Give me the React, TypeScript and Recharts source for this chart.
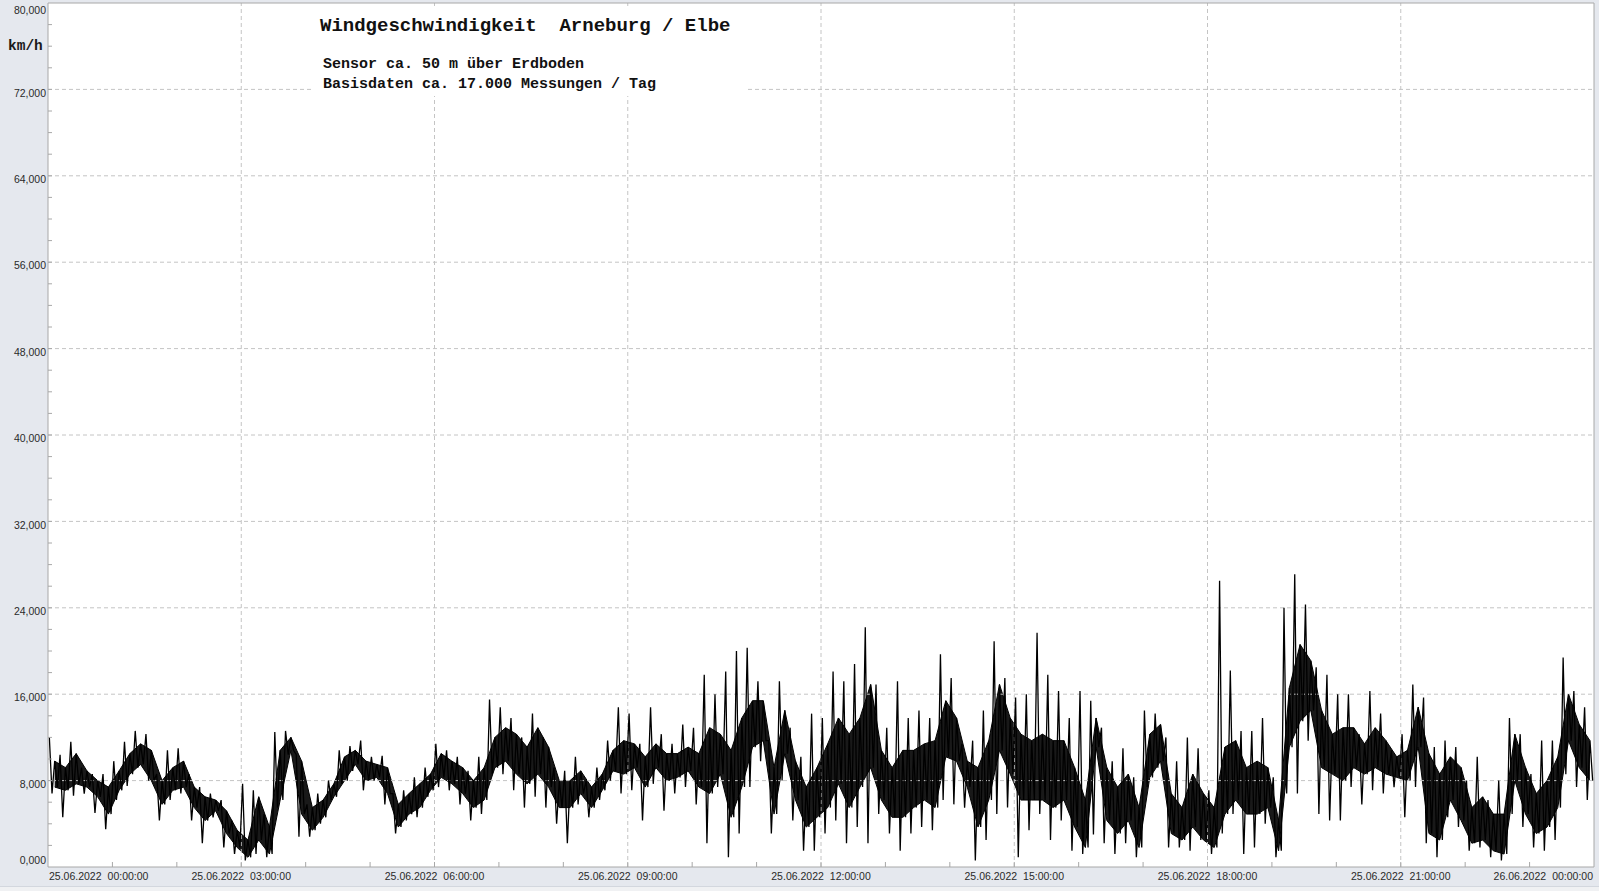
import React from 'react';
import { ComposedChart, Line, Area, XAxis, YAxis, CartesianGrid, ReferenceLine } from 'recharts';

// 10-minute bins over 25.06.2022, wind speed in km/h
// extremes of each bin (spikes)
const binHigh = [
  12, 10.4, 11.6, 9.2, 8.6, 8.6, 9.8, 11.6, 12.6, 12.3, 8.6, 10.8, 11, 8.6, 7.4, 6.8, 6.2, 4.3, 7.7, 7.1, 4.9, 12.5, 12.6, 10.4,
  5.8, 6.8, 8.0, 10.8, 11.2, 11.7, 10.2, 10.3, 6.8, 7.1, 8.3, 9.2, 11.4, 10.8, 10.2, 8.9, 10.2, 15.5, 14.8, 13.8, 12, 14.2, 12, 9.2,
  8.9, 10.2, 8.0, 9.2, 11.7, 14.8, 14.2, 11.4, 14.8, 12.3, 11.4, 13.2, 12.9, 17.8, 16, 18.1, 20, 20.3, 17.2, 11.7, 17.2, 12.9, 10.2, 14.2,
  13.8, 18.1, 17.2, 18.8, 22.2, 16.9, 12.9, 17.2, 13.8, 14.5, 13.8, 19.7, 17.5, 11.4, 11.7, 14.5, 20.9, 17.5, 15.7, 16, 21.7, 17.8, 16.3, 13.8,
  16.3, 15.4, 12.9, 9.8, 11, 8.3, 14.5, 14.2, 12, 9.8, 12, 11, 7.1, 26.5, 18.2, 12.6, 12.6, 13.8, 8.3, 24, 27.1, 24.3, 18.5, 17.8,
  16, 16, 12.3, 16.3, 14.2, 10.8, 12.3, 16.9, 15.7, 11.1, 11.7, 11.1, 8.0, 10.2, 6.2, 8.0, 13.8, 12.3, 8.6, 11.7, 11.7, 19.4, 16.3, 14.8,
];
const binLow = [
  6.8, 4.6, 6.6, 6.8, 5, 3.5, 6.2, 7.5, 9.2, 8.0, 4.3, 6.2, 6.8, 4.3, 2.2, 4.6, 1.8, 1.2, 0.6, 1.2, 0.9, 5.5, 10.4, 2.8,
  2.8, 4.0, 6.2, 7.7, 8.9, 7.1, 8.0, 5.8, 3.1, 4.3, 4.6, 6.5, 7.4, 7.1, 5.8, 4.3, 4.9, 8.6, 8.6, 7.1, 5.5, 6.5, 5.5, 4.0,
  2.2, 5.8, 4.6, 6.2, 8.0, 6.8, 7.1, 4.3, 7.7, 5.2, 6.8, 7.4, 5.8, 2.2, 7.4, 0.9, 3.1, 7.4, 9.8, 3.1, 8.0, 4.3, 1.5, 1.5,
  3.1, 4.3, 2.2, 3.7, 2.2, 4.9, 3.1, 1.5, 3.1, 3.7, 3.4, 6.2, 5.8, 5.5, 0.6, 2.5, 4.9, 5.5, 0.9, 3.4, 4.9, 2.5, 4.3, 1.5,
  1.2, 3.0, 2.2, 1.2, 2.2, 0.9, 7.4, 9.2, 1.8, 1.8, 1.5, 2.5, 1.2, 3.1, 4.9, 1.2, 1.8, 4.0, 0.9, 6.8, 6.8, 11.7, 4.9, 4.3,
  4.3, 7.4, 5.8, 7.1, 6.8, 7.4, 4.6, 7.4, 2.2, 0.9, 4.6, 3.7, 1.5, 1.8, 0.9, 0.6, 4.9, 3.7, 1.8, 1.5, 2.5, 8.6, 7.4, 6.2,
];
// dense part of the trace in each bin
const coreHigh = [
  9.8, 9.2, 10.5, 8.9, 8.0, 7.4, 8.9, 10.5, 11.4, 10.8, 8.0, 9.2, 9.8, 7.4, 6.5, 6.2, 5.2, 3.4, 2.5, 6.5, 3.7, 10.8, 12, 9.8,
  5.5, 6.2, 7.7, 10.2, 10.8, 9.8, 9.5, 9.2, 5.8, 6.8, 7.7, 8.6, 10.5, 9.8, 9.2, 8.0, 9.2, 12, 12.9, 12.3, 11.1, 12.9, 11.1, 8.0,
  8.0, 8.9, 7.4, 8.6, 10.8, 11.7, 11.4, 10.2, 11.4, 10.5, 10.5, 11.1, 10.5, 12.9, 12.3, 10.8, 13.8, 15.4, 15.4, 9.2, 14.5, 9.8, 7.4, 9.2,
  11.4, 13.8, 12.3, 13.8, 16.9, 10.8, 9.2, 10.8, 10.8, 11.4, 11.7, 15.4, 13.8, 9.8, 9.2, 11.7, 16.9, 13.8, 12.3, 11.7, 12.3, 11.7, 11.7, 9.2,
  6.2, 13.8, 9.2, 7.4, 8.6, 5.5, 12.3, 13.2, 6.8, 5.5, 8.6, 6.8, 5.5, 11.1, 11.7, 9.2, 9.8, 9.2, 4.3, 16.6, 20.6, 19.1, 14.5, 12.3,
  12.9, 12.9, 11.4, 12.9, 11.7, 10.2, 10.8, 14.8, 10.5, 8.6, 10.2, 9.2, 5.5, 6.5, 4.9, 4.9, 12.3, 9.2, 6.8, 8.0, 10.2, 16, 13.2, 11.7,
];
const coreLow = [
  7.4, 7.1, 7.7, 7.4, 6.5, 4.9, 7.1, 8.6, 9.5, 8.0, 5.8, 7.1, 7.4, 5.5, 4.3, 5.2, 3.1, 1.8, 0.9, 2.5, 1.2, 6.2, 10.8, 4.9,
  3.4, 4.6, 6.5, 8.0, 9.5, 8.0, 8.3, 6.8, 3.7, 4.9, 5.5, 7.1, 8.3, 7.7, 6.8, 5.5, 6.2, 9.2, 9.8, 8.6, 7.7, 8.6, 7.4, 5.5,
  5.5, 6.8, 5.5, 7.1, 8.9, 8.6, 9.2, 7.4, 9.2, 8.0, 8.3, 8.9, 7.4, 6.8, 8.6, 4.6, 7.4, 11.1, 11.7, 4.9, 10.5, 6.2, 3.7, 4.6,
  5.5, 7.7, 5.5, 7.4, 9.2, 6.2, 4.6, 4.6, 5.5, 6.2, 5.5, 10.2, 9.8, 7.4, 3.7, 6.2, 10.8, 8.6, 6.2, 6.2, 6.2, 5.5, 6.2, 3.7,
  1.8, 11.1, 4.3, 3.1, 4.3, 1.8, 8.3, 9.8, 3.1, 2.5, 3.7, 2.5, 1.8, 4.9, 6.2, 4.9, 4.9, 5.5, 1.5, 11.1, 13.5, 14.5, 9.2, 8.6,
  8.0, 9.2, 8.6, 9.2, 8.6, 8.3, 8.0, 11.1, 3.1, 2.5, 6.2, 4.3, 2.2, 2.5, 1.5, 1.2, 8.0, 4.9, 3.1, 3.7, 5.5, 11.7, 9.2, 8.0,
];

const hourTicks = [0, 60, 120, 180, 240, 300, 360, 420, 480, 540, 600, 660, 720, 780, 840, 900, 960, 1020, 1080, 1140, 1200, 1260, 1320, 1380, 1440];
const labelTicks = [0, 180, 360, 540, 720, 900, 1080, 1260, 1440];
const labelDates = ['25.06.2022', '25.06.2022', '25.06.2022', '25.06.2022', '25.06.2022', '25.06.2022', '25.06.2022', '25.06.2022', '26.06.2022'];
const labelTimes = ['00:00:00', '03:00:00', '06:00:00', '09:00:00', '12:00:00', '15:00:00', '18:00:00', '21:00:00', '00:00:00'];
const yTicks = [0, 2, 4, 6, 8, 10, 12, 14, 16, 18, 20, 22, 24, 26, 28, 30, 32, 34, 36, 38, 40, 42, 44, 46, 48, 50, 52, 54, 56, 58, 60, 62, 64, 66, 68, 70, 72, 74, 76, 78, 80];
const gridY = [8, 16, 24, 32, 40, 48, 56, 64, 72];
const gridX = [180, 360, 540, 720, 900, 1080, 1260];

// four readings per bin; the dense band is anchored once per bin
type Pt = { t: number; v: number; core?: [number, number] };
const data: Pt[] = [];
binHigh.forEach((h, i) => {
  data.push({ t: i * 10 + 1.25, v: h });
  data.push({ t: i * 10 + 3.75, v: binLow[i] });
  data.push({ t: i * 10 + 6.25, v: coreHigh[i], core: [coreLow[i], coreHigh[i]] });
  data.push({ t: i * 10 + 8.75, v: coreLow[i] });
});

const axisFont = '"Liberation Sans", Arial, sans-serif';
const monoFont = '"Liberation Mono", "Courier New", monospace';

const XTick = (props: any) => {
  const { x, y, payload } = props;
  const i = labelTicks.indexOf(payload.value);
  let anchor: 'start' | 'middle' | 'end' = 'middle';
  let tx = x;
  if (payload.value === 0) { anchor = 'start'; tx = x + 1; }
  if (payload.value === 1440) { anchor = 'end'; tx = x - 1; }
  return (
    <g>
      {payload.value > 0 && payload.value < 1440 && (
        <line x1={x} x2={x} y1={y} y2={y - 5} stroke="#a8a8a8" />
      )}
      {i >= 0 && (
        <text x={tx} y={y + 13} textAnchor={anchor} fontSize={10.5} fontFamily={axisFont} fill="#2a2a2a">
          {labelDates[i]}
          <tspan dx={6}>{labelTimes[i]}</tspan>
        </text>
      )}
    </g>
  );
};

const YTick = (props: any) => {
  const { x, y, payload } = props;
  const v = payload.value;
  const ly = Math.min(Math.max(y + 3.4, 10.7), 860.7);
  return (
    <g>
      {v > 0 && v < 80 && <line x1={x} x2={x + 4} y1={y} y2={y} stroke="#a8a8a8" />}
      {v % 8 === 0 && (
        <text x={x - 2} y={ly + 3.7} textAnchor="end" fontSize={10.5} fontFamily={axisFont} fill="#2a2a2a">
          {v.toFixed(3).replace('.', ',')}
        </text>
      )}
    </g>
  );
};

export default function App() {
  return (
    <div style={{ position: 'absolute', left: 0, top: 0, width: 1599, height: 891, background: '#e5e8ee', overflow: 'hidden' }}>
      <div style={{ position: 'absolute', left: 0, top: 886, width: 1599, height: 5, background: '#f0f1f3', borderTop: '1px solid #d3d7de' }} />
      <ComposedChart width={1599} height={891} data={data} margin={{ top: 3, right: 5, bottom: 0, left: 0 }}>
        <CartesianGrid fill="#ffffff" horizontal={false} vertical={false} />
        {gridY.map((g) => (
          <ReferenceLine key={'gy' + g} y={g} stroke="#c4c4c4" strokeDasharray="4 3" />
        ))}
        {gridX.map((g) => (
          <ReferenceLine key={'gx' + g} x={g} stroke="#c4c4c4" strokeDasharray="4 3" />
        ))}
        <ReferenceLine y={80} stroke="#a8a8a8" />
        <ReferenceLine x={1440} stroke="#a8a8a8" />
        <XAxis
          dataKey="t"
          type="number"
          domain={[0, 1440]}
          ticks={hourTicks}
          interval={0}
          height={24}
          tickLine={false}
          tickSize={0}
          tickMargin={0}
          axisLine={{ stroke: '#a8a8a8' }}
          tick={<XTick />}
        />
        <YAxis
          type="number"
          domain={[0, 80]}
          ticks={yTicks}
          interval={0}
          width={48}
          tickLine={false}
          tickSize={0}
          tickMargin={0}
          axisLine={{ stroke: '#a8a8a8' }}
          tick={<YTick />}
        />
        <Area type="linear" dataKey="core" connectNulls stroke="#000000" strokeWidth={1} fill="#000000" fillOpacity={0.9} isAnimationActive={false} />
        <Line type="linear" dataKey="v" stroke="#000000" strokeWidth={1.3} dot={false} isAnimationActive={false} />
      </ComposedChart>
      <svg width={1599} height={891} style={{ position: 'absolute', left: 0, top: 0, pointerEvents: 'none' }}>
        <text x={8} y={50} fontSize={14.5} fontWeight="bold" fontFamily={monoFont} fill="#1a1a1a">km/h</text>
        <rect x={313} y={6} width={432} height={90} fill="#ffffff" />
        <text x={320} y={30.7} fontSize={19} fontWeight="bold" fontFamily={monoFont} fill="#111" style={{ whiteSpace: 'pre' }}>
          Windgeschwindigkeit  Arneburg / Elbe
        </text>
        <text x={323} y={67.7} fontSize={15} fontWeight="bold" fontFamily={monoFont} fill="#111" style={{ whiteSpace: 'pre' }}>
          Sensor ca. 50 m über Erdboden
        </text>
        <text x={323} y={87.7} fontSize={15} fontWeight="bold" fontFamily={monoFont} fill="#111" style={{ whiteSpace: 'pre' }}>
          Basisdaten ca. 17.000 Messungen / Tag
        </text>
      </svg>
    </div>
  );
}
